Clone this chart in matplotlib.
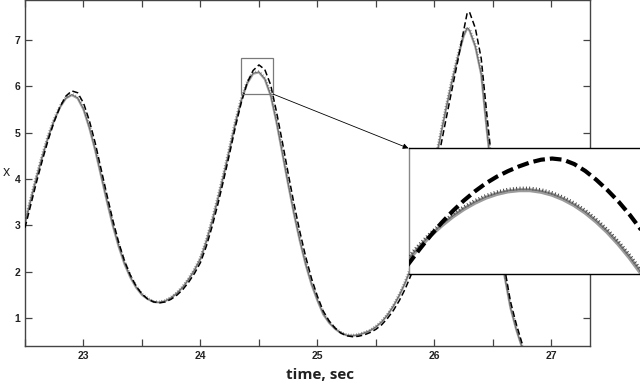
import matplotlib
matplotlib.use("Agg")
import matplotlib.pyplot as plt
import matplotlib.patheffects as pe
from matplotlib.patches import Rectangle
from matplotlib.ticker import MultipleLocator, NullFormatter

# time axis (sec)
t = [22.50, 22.55, 22.60, 22.65, 22.70, 22.75, 22.80, 22.85, 22.90, 22.95,
     23.00, 23.05, 23.10, 23.15, 23.20, 23.25, 23.30, 23.35, 23.40, 23.45,
     23.50, 23.55, 23.60, 23.65, 23.70, 23.75, 23.80, 23.85, 23.90, 23.95,
     24.00, 24.05, 24.10, 24.15, 24.20, 24.25, 24.30, 24.35, 24.40, 24.45,
     24.50, 24.55, 24.60, 24.65, 24.70, 24.75, 24.80, 24.85, 24.90, 24.95,
     25.00, 25.05, 25.10, 25.15, 25.20, 25.25, 25.30, 25.35, 25.40, 25.45,
     25.50, 25.55, 25.60, 25.65, 25.70, 25.75, 25.80, 25.85, 25.90, 25.95,
     26.00, 26.05, 26.10, 26.15, 26.20, 26.25, 26.28,
     26.30, 26.35, 26.40, 26.45, 26.50, 26.55, 26.60, 26.65, 26.70, 26.75, 26.80]

# gray solid curve
x_solid = [3.05, 3.56, 4.05, 4.50, 4.92, 5.27, 5.55, 5.74, 5.81, 5.74,
           5.50, 5.10, 4.62, 4.07, 3.52, 3.00, 2.55, 2.17, 1.88, 1.66,
           1.50, 1.41, 1.35, 1.34, 1.37, 1.44, 1.54, 1.67, 1.84, 2.04,
           2.28, 2.65, 3.09, 3.58, 4.10, 4.65, 5.22, 5.70, 6.06, 6.27,
           6.30, 6.15, 5.80, 5.22, 4.55, 3.88, 3.24, 2.66, 2.15, 1.72,
           1.38, 1.08, 0.90, 0.77, 0.68, 0.63, 0.62, 0.64, 0.68, 0.73,
           0.81, 0.92, 1.07, 1.26, 1.49, 1.76, 2.08, 2.52, 3.05, 3.62,
           4.25, 4.90, 5.52, 6.10, 6.62, 7.08, 7.25,
           7.20, 6.85, 6.25, 5.00, 3.85, 2.80, 1.90, 1.22, 0.75, 0.36, -0.02]

# black dashed curve
x_dashed = [2.95, 3.45, 3.95, 4.42, 4.86, 5.24, 5.56, 5.79, 5.90, 5.86,
            5.64, 5.26, 4.78, 4.22, 3.66, 3.12, 2.64, 2.24, 1.93, 1.69,
            1.52, 1.41, 1.35, 1.33, 1.35, 1.41, 1.50, 1.62, 1.78, 1.97,
            2.20, 2.55, 2.98, 3.47, 4.00, 4.56, 5.14, 5.66, 6.08, 6.34,
            6.46, 6.36, 6.03, 5.45, 4.80, 4.12, 3.46, 2.86, 2.32, 1.85,
            1.47, 1.15, 0.94, 0.79, 0.68, 0.62, 0.60, 0.61, 0.64, 0.69,
            0.76, 0.86, 1.00, 1.17, 1.38, 1.63, 1.93, 2.34, 2.84, 3.40,
            4.02, 4.66, 5.30, 5.93, 6.55, 7.20, 7.58,
            7.60, 7.25, 6.60, 5.35, 4.15, 3.05, 2.08, 1.36, 0.87, 0.45, 0.05]

# ticked curve (almost on the gray one)
x_ticked = [3.04, 3.55, 4.04, 4.50, 4.92, 5.27, 5.55, 5.74, 5.82, 5.75,
            5.51, 5.11, 4.63, 4.08, 3.53, 3.01, 2.56, 2.18, 1.89, 1.67,
            1.51, 1.41, 1.35, 1.34, 1.37, 1.44, 1.54, 1.67, 1.84, 2.04,
            2.28, 2.65, 3.09, 3.58, 4.10, 4.65, 5.22, 5.71, 6.07, 6.28,
            6.31, 6.16, 5.81, 5.23, 4.56, 3.89, 3.25, 2.67, 2.16, 1.73,
            1.39, 1.09, 0.90, 0.77, 0.68, 0.63, 0.62, 0.64, 0.68, 0.73,
            0.81, 0.92, 1.07, 1.26, 1.49, 1.76, 2.08, 2.52, 3.05, 3.62,
            4.25, 4.90, 5.52, 6.10, 6.62, 7.09, 7.26,
            7.21, 6.86, 6.26, 5.01, 3.86, 2.81, 1.90, 1.22, 0.75, 0.36, -0.02]

# zoomed part around the second peak
t_zoom = [24.37, 24.38, 24.39, 24.40, 24.41, 24.42, 24.43, 24.44, 24.45, 24.46,
          24.47, 24.48, 24.49, 24.50, 24.51, 24.52, 24.53, 24.54, 24.55, 24.56,
          24.57, 24.58, 24.59, 24.60]
solid_zoom = [5.885, 5.955, 6.019, 6.077, 6.128, 6.173, 6.211, 6.243, 6.269, 6.288,
              6.301, 6.307, 6.307, 6.299, 6.284, 6.261, 6.231, 6.193, 6.147, 6.094,
              6.033, 5.965, 5.889, 5.805]
dashed_zoom = [5.857, 5.933, 6.007, 6.077, 6.142, 6.201, 6.254, 6.301, 6.342, 6.376,
               6.404, 6.428, 6.448, 6.462, 6.468, 6.462, 6.440, 6.405, 6.360, 6.308,
               6.250, 6.184, 6.110, 6.030]
ticked_zoom = [5.888, 5.958, 6.022, 6.080, 6.131, 6.176, 6.214, 6.246, 6.272, 6.291,
               6.304, 6.310, 6.310, 6.302, 6.287, 6.264, 6.234, 6.196, 6.150, 6.097,
               6.036, 5.968, 5.892, 5.808]

W, H = 640, 383
fig = plt.figure(figsize=(6.4, 3.83), dpi=100)
ax = fig.add_axes([25 / W, 37 / H, 565 / W, 346 / H])

ax.plot(t, x_solid, color="#a3a3a3", lw=1.6, solid_capstyle="round", zorder=2)
ax.plot(t, x_ticked, color="#555555", lw=0.4, zorder=3,
        path_effects=[pe.withTickedStroke(angle=90, spacing=2.0, length=0.6,
                                          linewidth=0.4, foreground="#666666")])
ax.plot(t, x_dashed, color="black", lw=1.1, dashes=(4.0, 2.0), zorder=4)

ax.set_xlim(22.5, 27.33)
ax.set_ylim(0.4, 7.86)
ax.xaxis.set_major_locator(MultipleLocator(1))
ax.xaxis.set_minor_locator(MultipleLocator(0.5))
ax.xaxis.set_minor_formatter(NullFormatter())
ax.yaxis.set_major_locator(MultipleLocator(1))
ax.tick_params(which="both", direction="in", top=True, right=True,
               length=5, width=0.9, color="#444444", pad=3.5)
for lab in ax.get_xticklabels() + ax.get_yticklabels():
    lab.set_fontfamily("Liberation Sans")
    lab.set_fontweight("bold")
    lab.set_fontsize(7.5)
    lab.set_color("#222222")
for s in ax.spines.values():
    s.set_color("#444444")
    s.set_linewidth(1.0)

fig.text(320 / W, 1 - 375 / H, "time, sec", family="Open Sans", weight="bold",
         fontsize=11, ha="center", va="center", color="#222222")
fig.text(6 / W, 1 - 173 / H, "x", family="Open Sans", fontsize=10,
         ha="center", va="center", color="#222222")

# box marking the zoomed region
ax.add_patch(Rectangle((24.344, 5.83), 0.278, 0.77, fill=False,
                       ec="#7a7a7a", lw=0.9, zorder=5))

# inset
axins = fig.add_axes([408.5 / W, 1 - 274.3 / H, 235 / W, 126 / H])
axins.plot(t_zoom, solid_zoom, color="#9c9c9c", lw=2.9, zorder=2)
axins.plot(t_zoom, ticked_zoom, color="#666666", lw=0.6, zorder=3,
           path_effects=[pe.withTickedStroke(angle=90, spacing=2.3, length=0.8,
                                             linewidth=0.7, foreground="#444444")])
axins.plot(t_zoom, dashed_zoom, color="black", lw=3.0, dashes=(2.8, 1.2), zorder=4)
axins.set_xlim(24.38, 24.38 + 0.21 * 235 / 232)
axins.set_ylim(5.88, 6.52)
axins.set_xticks([])
axins.set_yticks([])
for s in ["top", "bottom"]:
    axins.spines[s].set_color("black")
    axins.spines[s].set_linewidth(1.0)
axins.spines["left"].set_color("#888888")
axins.spines["left"].set_linewidth(1.0)

ann = axins.annotate("", xy=(0, 1), xycoords="axes fraction",
                     xytext=(24.622, 5.83), textcoords=ax.transData,
                     arrowprops=dict(arrowstyle="-|>", color="black", lw=0.6,
                                     mutation_scale=8, shrinkA=0, shrinkB=0),
                     annotation_clip=False)
ann.arrow_patch.set_clip_on(False)

plt.savefig("out.png", dpi=100)
